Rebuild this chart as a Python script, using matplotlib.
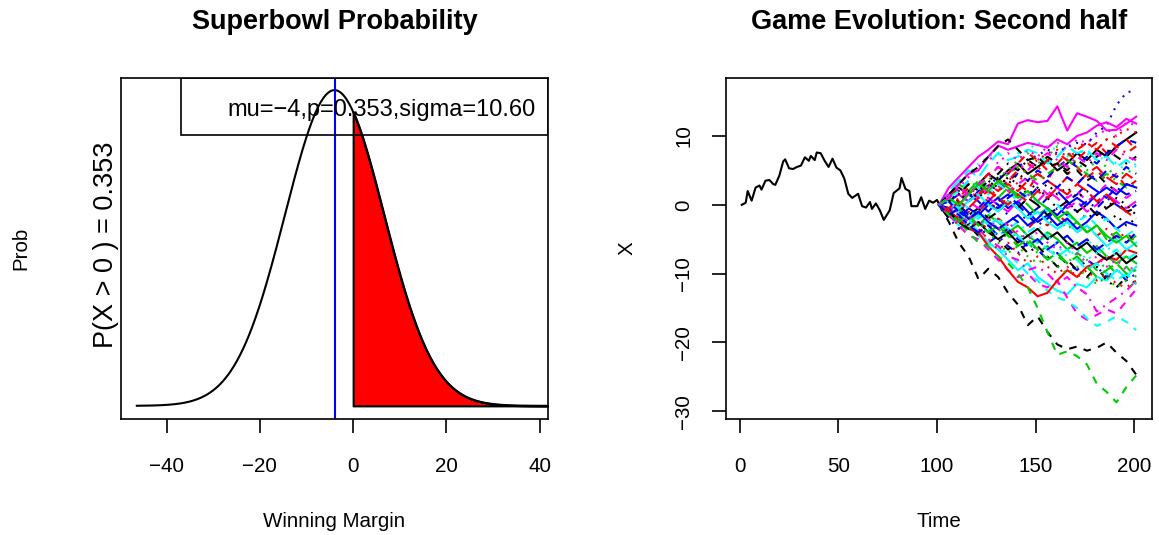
import numpy as np
import matplotlib
matplotlib.use("Agg")
import matplotlib.pyplot as plt
from matplotlib.patches import Rectangle

plt.rcParams['font.family'] = ['Liberation Sans', 'DejaVu Sans']
plt.rcParams['lines.scale_dashes'] = False

###############################################################################
# Left panel values
mu = -4
sigma = 10.6
p_win = 0.353

# Right panel: first half (one black path), time / margin
half_t = [1, 3, 4, 6, 8, 10, 11, 13, 15, 17, 18, 20, 22, 23, 25, 27, 29, 31, 33,
          35, 36, 38, 39, 41, 43, 45, 47, 49, 51, 53, 55, 57, 60, 62, 64, 66, 67,
          69, 71, 73, 76, 78, 81, 82, 84, 86, 87, 90, 92, 94, 96, 98, 100, 101]
half_x = [0.0, 0.3, 2.0, 0.6, 2.5, 2.8, 2.2, 3.5, 3.6, 3.0, 2.9, 4.2, 6.3, 6.6,
          5.3, 5.2, 5.5, 5.7, 6.9, 6.4, 7.1, 6.5, 7.6, 7.5, 6.4, 5.5, 6.7, 5.4,
          5.0, 3.8, 1.6, 1.0, 1.6, -0.2, -0.4, 0.4, -0.6, 0.2, -0.8, -2.2, -0.8,
          1.7, 2.4, 3.9, 2.3, 2.0, -0.2, -0.2, 1.1, -0.6, 0.6, 0.3, 0.7, 0.1]

# Second half: simulated paths, sampled every 5 time units (t = 101..201)
fan_t = list(range(101, 202, 5))
fan_x = [
    [0, 1.0, 2.5, 1.5, 3.0, 4.5, 3.5, 5.0, 6.0, 4.5, 5.5, 6.5, 5.0, 6.0, 7.5, 6.5, 8.0, 7.0, 8.5, 9.5, 10.5],
    [0, -1.5, -0.5, -2.5, -1.0, 0.5, -1.0, 1.5, 3.0, 2.0, 4.5, 3.5, 6.0, 7.5, 6.5, 8.0, 9.0, 7.5, 8.5, 9.5, 8.0],
    [0, 1.5, 0.5, 2.0, 3.5, 2.5, 4.0, 5.0, 6.5, 7.5, 6.0, 7.0, 8.5, 7.5, 6.0, 5.0, 6.5, 5.5, 4.0, 5.0, 4.5],
    [0, -2.0, -3.5, -2.5, -4.0, -5.5, -4.5, -6.0, -7.0, -5.5, -6.5, -8.0, -7.0, -8.5, -9.5, -8.0, -9.0, -10.5, -9.5, -11.0, -10.0],
    [0, 2.0, 3.5, 5.0, 4.0, 6.0, 7.5, 6.5, 7.0, 8.0, 7.5, 6.0, 7.0, 8.5, 7.5, 8.0, 6.5, 7.0, 5.5, 6.5, 5.5],
    [0, 2.5, 4.0, 5.5, 7.0, 8.0, 9.2, 8.8, 11.8, 12.3, 12.0, 12.2, 14.3, 10.8, 13.3, 12.8, 12.2, 10.8, 10.9, 11.8, 12.8],
    [0, -2.5, -5.5, -7.5, -10.8, -9.3, -10.5, -12.8, -14.5, -17.5, -16.2, -18.5, -20.3, -21.0, -20.6, -21.2, -20.8, -20.0, -21.5, -22.7, -24.7],
    [0, 1.0, -0.5, 0.5, 2.0, 1.0, 2.5, 4.0, 3.0, 5.5, 6.5, 7.5, 8.0, 7.0, 8.5, 9.0, 8.0, 9.5, 10.0, 11.0, 10.5],
    [0, -1.0, -2.5, -1.5, -3.0, -2.0, -3.5, -5.0, -4.0, -5.5, -7.0, -6.0, -7.5, -8.5, -7.0, -8.0, -9.5, -8.5, -10.0, -9.0, -10.5],
    [0, 1.0, 0.0, 1.5, 0.5, -1.0, 0.5, 1.5, 0.0, -1.5, -0.5, 1.0, 2.0, 0.5, 1.5, 3.0, 2.0, 1.0, 2.5, 1.5, 2.0],
    [0, -1.5, -3.0, -2.0, -4.0, -5.5, -6.5, -8.0, -9.5, -8.5, -10.5, -11.5, -12.5, -13.0, -11.5, -12.0, -10.5, -11.0, -9.5, -10.5, -9.0],
    [0, -1.5, -3.0, -4.5, -5.0, -6.5, -8.0, -9.5, -10.5, -10.0, -11.5, -12.0, -11.0, -13.5, -15.8, -16.7, -16.0, -15.2, -15.8, -14.0, -12.3],
    [0, 0.5, 2.0, 1.0, 2.5, 3.5, 2.5, 4.0, 3.0, 1.5, 2.5, 1.0, -0.5, 0.5, -1.0, -2.0, -1.0, -2.5, -1.5, -3.0, -2.0],
    [0, -0.5, -2.0, -1.0, -2.5, -3.5, -2.0, -3.0, -4.5, -3.5, -2.0, -3.0, -1.5, -2.5, -4.0, -3.0, -4.5, -3.5, -5.0, -4.0, -5.5],
    [0, 1.5, 3.0, 2.0, 3.5, 2.0, 1.0, 2.5, 1.5, 0.0, -1.5, -0.5, -2.0, -3.5, -2.5, -4.0, -3.0, -5.0, -4.0, -5.5, -4.5],
    [0, -1.0, -2.0, -0.5, -1.5, 0.0, 1.0, -0.5, 0.5, -1.0, -2.5, -1.5, -3.0, -2.0, -3.5, -2.5, -1.0, -2.0, -3.5, -2.5, -3.0],
    [0, -1.0, -2.5, -3.0, -4.5, -5.5, -6.5, -7.0, -8.5, -10.0, -11.0, -12.5, -13.5, -14.0, -15.0, -16.5, -17.6, -17.0, -16.2, -17.0, -18.2],
    [0, 1.0, 2.5, 4.0, 5.5, 7.0, 6.0, 7.5, 6.5, 8.0, 7.0, 8.5, 9.0, 8.0, 9.5, 9.0, 10.0, 11.0, 10.0, 12.0, 11.5],
    [0, -2.0, -1.0, -3.0, -4.5, -3.5, -5.0, -6.5, -5.5, -7.0, -6.0, -7.5, -9.0, -8.0, -9.5, -10.5, -9.0, -11.0, -12.0, -10.5, -11.5],
    [0, 0.5, -1.0, 0.5, 1.5, 0.5, 2.0, 3.0, 2.0, 3.5, 4.5, 3.5, 2.5, 4.0, 3.0, 4.5, 5.5, 4.0, 3.0, 4.5, 3.5],
    [0, -1.5, -0.5, -2.0, -3.0, -1.5, -2.5, -4.0, -3.0, -4.5, -5.5, -4.0, -5.0, -6.5, -5.5, -7.0, -6.0, -7.5, -8.5, -7.5, -8.5],
    [0, 0.5, 1.5, 0.5, 2.0, 3.0, 2.0, 3.5, 4.5, 3.5, 5.0, 4.0, 5.5, 6.5, 5.5, 7.0, 6.0, 7.5, 8.5, 9.5, 9.0],
    [0, 1.5, 3.0, 4.5, 6.0, 7.0, 7.5, 8.5, 7.5, 8.0, 9.0, 8.5, 8.0, 7.0, 8.0, 7.5, 6.5, 7.0, 6.0, 5.0, 6.0],
    [0, 0.5, -1.5, -2.5, -3.5, -5.0, -6.0, -7.5, -8.0, -9.5, -9.0, -10.0, -11.5, -10.5, -12.0, -13.0, -15.5, -14.5, -13.5, -12.5, -11.0],
    [0, 1.0, 0.0, -1.5, -0.5, -2.0, -1.0, 0.5, -0.5, 1.0, 0.0, -1.5, -0.5, 0.5, -1.0, 0.0, -1.5, -0.5, 0.5, -1.0, -0.5],
    [0, -1.0, -2.0, -3.5, -4.0, -6.0, -7.5, -9.5, -11.2, -12.0, -13.3, -12.8, -11.0, -9.5, -10.5, -9.0, -8.5, -7.5, -8.0, -6.5, -7.0],
    [0, -1.5, -2.5, -4.0, -5.5, -6.0, -7.5, -8.5, -10.0, -12.0, -15.0, -18.5, -21.8, -21.3, -22.0, -23.2, -26.0, -27.2, -28.7, -26.5, -24.8],
    [0, -1.0, 0.5, 1.5, 1.0, 2.8, 4.0, 4.5, 5.5, 6.5, 7.2, 8.0, 7.5, 8.5, 9.0, 8.8, 10.5, 11.5, 14.5, 16.3, 16.7],
    [0, -1.0, 0.5, -0.5, -2.0, -1.0, -2.5, -3.5, -2.5, -4.0, -3.0, -4.5, -5.5, -4.5, -6.0, -5.0, -6.5, -7.5, -6.5, -8.0, -7.0],
    [0, 0.5, 1.5, 0.5, -0.5, 1.0, 0.0, -1.0, 0.5, 1.5, 0.5, 2.0, 1.0, -0.5, 0.5, -1.0, 0.0, 1.5, 0.5, -0.5, 0.5],
    [0, -1.0, -2.5, -3.5, -2.5, -4.0, -5.0, -4.0, -5.5, -4.5, -3.5, -5.0, -4.0, -5.5, -6.5, -5.5, -7.0, -8.0, -7.0, -8.5, -7.5],
    [0, 1.0, 2.5, 1.5, 3.0, 4.5, 5.5, 4.5, 6.0, 7.5, 6.5, 5.0, 6.0, 4.5, 5.5, 4.0, 5.0, 3.5, 4.5, 2.5, 3.5],
    [0, -0.5, -2.0, -3.5, -2.5, -4.0, -5.5, -7.0, -6.0, -7.5, -8.5, -7.5, -9.0, -10.0, -9.0, -10.5, -11.5, -10.5, -12.0, -11.0, -12.5],
    [0, -1.0, 0.0, -1.5, -0.5, 1.0, 0.0, -1.5, -2.5, -1.5, -3.0, -2.0, -0.5, -1.5, -0.5, 0.5, -0.5, 1.0, 0.0, -1.0, 0.0],
    [0, 0.5, -1.0, -2.5, -1.5, -3.0, -2.0, -3.5, -4.5, -6.0, -5.0, -6.5, -7.5, -6.5, -8.0, -9.5, -8.5, -10.0, -11.0, -10.0, -11.5],
    [0, 1.5, 3.0, 4.5, 5.0, 7.0, 8.6, 8.0, 8.5, 9.0, 8.7, 8.3, 9.5, 8.8, 10.0, 10.5, 11.5, 12.0, 11.3, 12.5, 11.8],
    [0, 1.5, 3.0, 4.5, 5.5, 7.0, 8.5, 9.5, 8.0, 6.5, 7.0, 5.5, 6.0, 4.5, 5.0, 3.5, 4.5, 3.0, 2.0, 3.0, 2.5],
    [0, -1.5, -3.0, -2.0, -3.5, -5.0, -6.5, -5.5, -7.0, -8.5, -7.5, -9.0, -10.0, -9.0, -10.5, -9.5, -11.0, -10.0, -11.5, -12.0, -11.0],
    [0, 1.0, 2.0, 3.5, 2.5, 4.0, 3.0, 4.5, 5.5, 4.5, 3.5, 4.5, 5.5, 6.5, 5.5, 4.5, 3.5, 4.5, 3.5, 2.5, 3.0],
    [0, -0.5, -1.5, -3.0, -4.0, -3.0, -4.5, -3.5, -5.0, -6.0, -5.0, -6.5, -5.5, -4.5, -6.0, -5.0, -6.5, -5.5, -4.5, -5.5, -4.0],
    [0, 1.0, -0.5, 0.5, 1.5, 0.0, -1.0, 0.5, -0.5, -2.0, -1.0, -2.5, -3.5, -2.5, -4.0, -3.0, -4.5, -6.0, -5.0, -6.5, -5.5],
    [0, -1.0, 0.5, 2.0, 1.0, 2.5, 3.5, 2.0, 3.0, 4.0, 3.0, 1.5, 2.5, 1.0, 2.0, 0.5, 1.5, 3.0, 2.0, 1.0, 2.0],
    [0, 1.5, 0.5, 2.0, 1.0, 2.5, 4.0, 3.0, 4.5, 3.5, 2.0, 3.0, 1.5, 2.5, 1.0, 2.0, 0.5, -0.5, 1.0, 0.0, -1.5],
    [0, -0.5, 1.0, 2.5, 1.5, 3.0, 2.0, 3.5, 5.0, 6.0, 5.0, 6.5, 7.5, 6.5, 8.0, 9.0, 8.0, 9.5, 8.5, 7.5, 8.5],
    [0, -1.0, -2.5, -1.5, -3.0, -4.0, -3.0, -4.5, -6.0, -5.0, -6.5, -8.0, -7.0, -8.5, -7.5, -9.0, -10.5, -9.5, -8.5, -10.0, -9.5],
    [0, 0.5, -1.0, -2.0, -1.0, -2.5, -3.5, -2.5, -1.5, -3.0, -2.0, -0.5, -1.5, 0.0, 1.0, 0.0, 1.5, 2.5, 1.5, 3.0, 2.5],
    [0, 1.0, 2.0, 3.5, 2.5, 1.5, 3.0, 2.0, 0.5, 1.5, 0.5, -1.0, 0.0, -1.5, -2.5, -1.5, -3.0, -2.0, -3.5, -4.5, -3.5],
    [0, -1.5, -2.5, -1.5, -3.0, -2.0, -3.5, -2.5, -4.0, -5.0, -4.0, -5.5, -6.5, -5.5, -7.0, -8.5, -7.5, -9.0, -8.0, -9.5, -9.0],
    [0, 0.5, 1.5, 3.0, 2.0, 3.5, 4.5, 6.0, 5.0, 6.5, 5.5, 7.0, 6.0, 5.0, 6.5, 5.5, 7.0, 8.0, 7.0, 6.0, 7.0],
    [0, -1.0, 0.5, -0.5, 1.0, 2.0, 1.0, 0.0, 1.5, 0.5, 2.0, 1.0, 2.5, 1.5, 3.0, 2.0, 0.5, 1.5, 0.0, -1.0, -2.0],
    [0, 1.0, 0.0, 1.5, 3.0, 2.0, 3.5, 2.5, 1.0, 2.0, 0.5, -0.5, -2.0, -1.0, -2.5, -4.0, -3.0, -4.5, -5.5, -4.5, -6.0],
    [0, -1.5, -0.5, -2.0, -1.0, 0.5, -0.5, 1.0, 2.0, 1.0, 2.5, 3.5, 2.5, 4.0, 3.0, 4.5, 3.5, 5.0, 4.0, 5.5, 4.5],
    [0, 0.5, -1.0, -2.5, -2.0, -3.5, -4.5, -3.5, -5.0, -4.0, -5.5, -4.5, -6.0, -7.5, -6.5, -8.0, -7.0, -6.0, -7.5, -6.5, -8.0],
    [0, 1.0, 2.5, 1.5, 3.0, 4.0, 5.5, 4.5, 6.0, 5.0, 6.5, 7.5, 6.5, 5.5, 7.0, 6.0, 7.5, 6.5, 8.0, 7.0, 6.5],
]

###############################################################################
# R-like styling
r_cols = ['#000000', '#FF0000', '#00CD00', '#0000FF', '#00FFFF', '#FF00FF']
r_ltys = ['-', (0, (5.5, 5.5)), (0, (1.4, 4.3)), (0, (1.4, 4.3, 5.8, 4.3)), (0, (10, 4.3))]
LAB = 14.8
TIT = 19.5
LW = 1.5

fig = plt.figure(figsize=(11.59, 5.35), dpi=100)
axL = fig.add_axes([121/1159, 1-418.5/535, 427/1159, 341/535])
axR = fig.add_axes([726/1159, 1-418.5/535, 426/1159, 341/535])

for ax in (axL, axR):
    for s in ax.spines.values():
        s.set_linewidth(1.2)
    ax.tick_params(direction='out', length=10.4, width=1.2, labelsize=LAB)
    ax.tick_params(axis='x', pad=17.5)
    ax.tick_params(axis='y', pad=13.3)

###############################################################################
# Left: normal density
xs = np.linspace(mu - 4*sigma, mu + 5*sigma, 600)
dens = np.exp(-0.5*((xs - mu)/sigma)**2) / (sigma*np.sqrt(2*np.pi))
peak = dens.max()
axL.plot(xs, dens, color='black', lw=LW)
xf = np.concatenate([[0.0], xs[xs > 0]])
df = np.exp(-0.5*((xf - mu)/sigma)**2) / (sigma*np.sqrt(2*np.pi))
axL.fill_between(xf, 0, df, facecolor='red', edgecolor='black', lw=LW)
axL.axvline(mu, color='blue', lw=LW)
lo, hi = mu - 4*sigma, mu + 4*sigma
axL.set_xlim(lo - 0.04*(hi-lo), hi + 0.04*(hi-lo))
axL.set_ylim(-0.04*peak, 1.04*peak)
axL.set_xticks([-40, -20, 0, 20, 40])
axL.set_yticks([])
axL.add_patch(Rectangle((0.1405, 0.832), 0.8595, 0.168, transform=axL.transAxes,
                        fill=False, edgecolor='black', lw=1.2, zorder=3))
axL.text(0.972, 0.906, 'mu=\u22124,p=%.3f,sigma=%.2f' % (p_win, sigma), transform=axL.transAxes,
         ha='right', va='center', fontsize=17, zorder=3)
axL.set_title('Superbowl Probability', fontsize=TIT, fontweight='bold', y=1.137, va='center')
axL.set_xlabel('Winning Margin', fontsize=LAB, va='center')
axL.xaxis.set_label_coords(0.5, -0.302)
axL.text(-0.234, 0.5, 'Prob', transform=axL.transAxes, rotation=90,
         ha='center', va='center', fontsize=LAB)
axL.text(-0.034, 0.509, 'P(X > 0 ) = %.3f' % p_win, transform=axL.transAxes, rotation=90,
         ha='center', va='center', fontsize=19.5)

###############################################################################
# Right: game evolution
axR.plot(half_t, half_x, color='black', lw=LW)
for i, path in enumerate(fan_x):
    axR.plot(fan_t, path, color=r_cols[i % 6], linestyle=r_ltys[i % 5], lw=LW)
axR.set_xlim(-7, 209)
axR.set_ylim(-31.06, 18.5)
axR.set_xticks([0, 50, 100, 150, 200])
axR.set_yticks([-30, -20, -10, 0, 10])
axR.tick_params(axis='y', labelrotation=90)
for lab in axR.get_yticklabels():
    lab.set_va('center')
axR.set_title('Game Evolution: Second half', fontsize=TIT, fontweight='bold', y=1.137, va='center')
axR.set_xlabel('Time', fontsize=LAB, va='center')
axR.xaxis.set_label_coords(0.5, -0.302)
axR.set_ylabel('X', fontsize=LAB, va='center')
axR.yaxis.set_label_coords(-0.232, 0.5)

fig.savefig('out.png', dpi=100)
